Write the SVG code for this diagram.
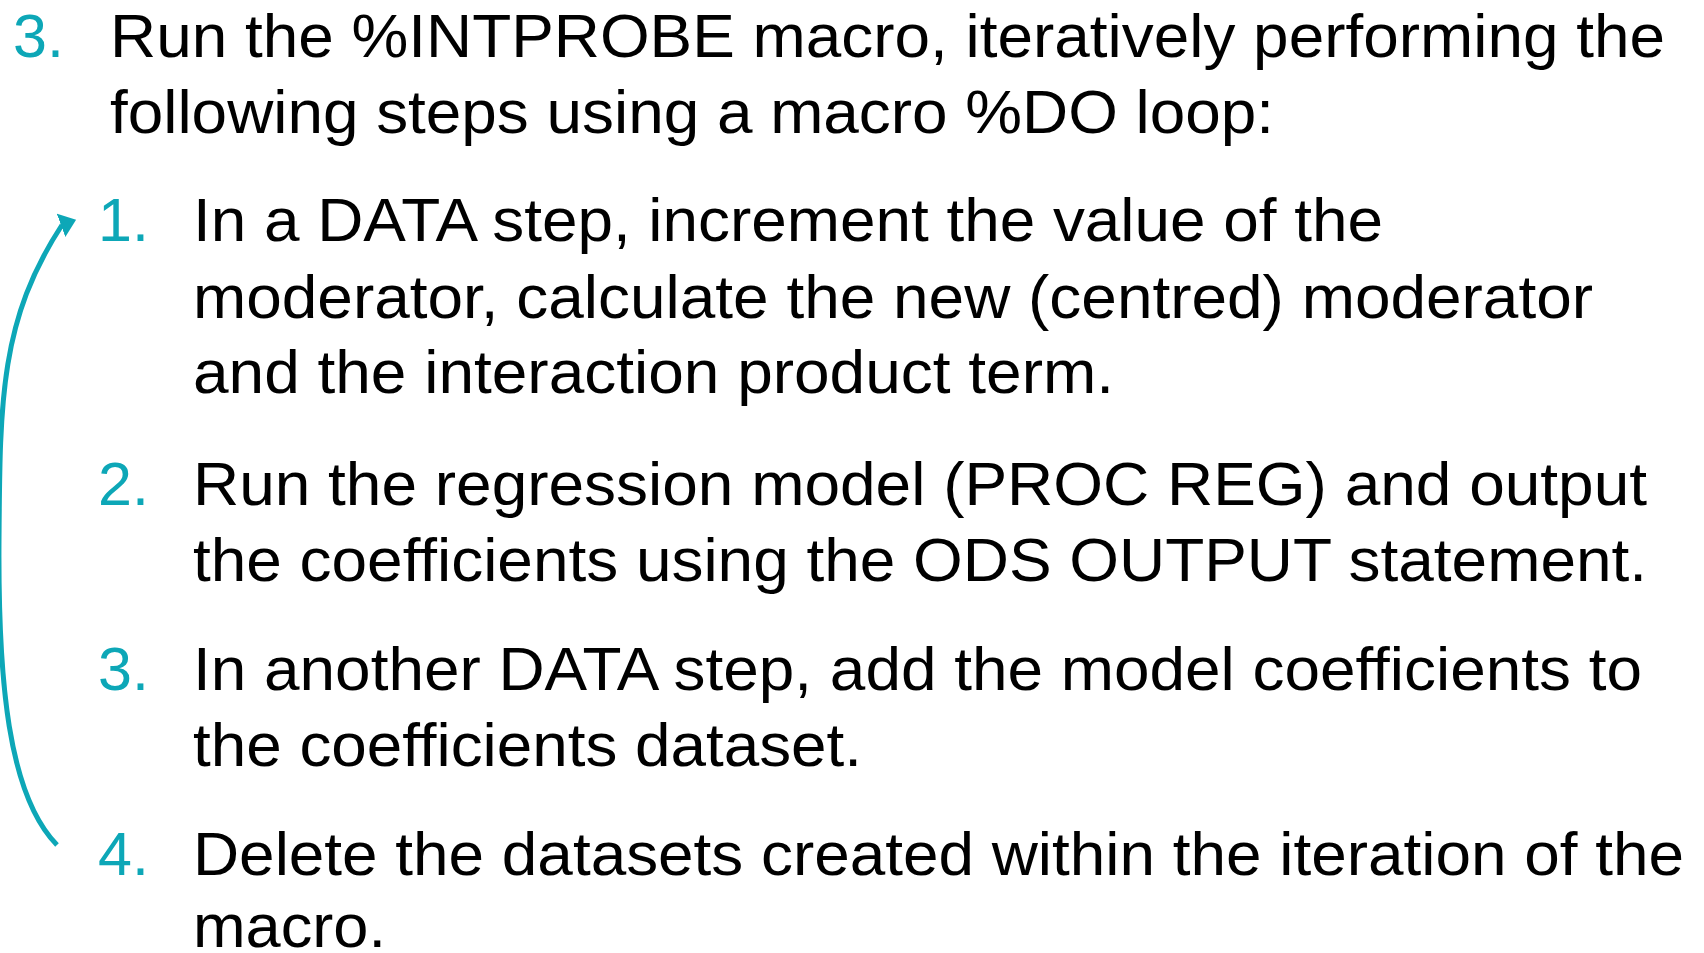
<svg xmlns="http://www.w3.org/2000/svg" width="1704" height="953" viewBox="0 0 1704 953">
<style>
.t{font-family:"Liberation Sans",Arial,sans-serif;font-size:61px;fill:#000}
.n{font-family:"Liberation Sans",Arial,sans-serif;font-size:61px;fill:#0DA7B7}
</style>
<defs>
<marker id="ah" markerUnits="userSpaceOnUse" markerWidth="20" markerHeight="28" refX="1" refY="12.5" orient="-20" viewBox="0 0 20 28">
<path d="M0,0 L16,12.5 L0,25 Z" fill="#0DA7B7"/>
</marker>
</defs>
<rect width="1704" height="953" fill="#fff"/>
<g id="connectors">
<path d="M57,845 C8,795 -2,680 -1,540 C0,400 0,320 62,225" fill="none" stroke="#0DA7B7" stroke-width="5" marker-end="url(#ah)"/>
</g>
<g id="main">
<text class="n" x="13" y="57">3.</text>
<text class="t" x="110" y="57" textLength="1555" lengthAdjust="spacingAndGlyphs">Run the %INTPROBE macro, iteratively performing the</text>
<text class="t" x="110" y="133" textLength="1164" lengthAdjust="spacingAndGlyphs">following steps using a macro %DO loop:</text>
</g>
<g id="step1">
<text class="n" x="98" y="241">1.</text>
<text class="t" x="193" y="241" textLength="1190" lengthAdjust="spacingAndGlyphs">In a DATA step, increment the value of the</text>
<text class="t" x="193" y="318" textLength="1400" lengthAdjust="spacingAndGlyphs">moderator, calculate the new (centred) moderator</text>
<text class="t" x="193" y="393" textLength="921" lengthAdjust="spacingAndGlyphs">and the interaction product term.</text>
</g>
<g id="step2">
<text class="n" x="98" y="505">2.</text>
<text class="t" x="193" y="505" textLength="1454" lengthAdjust="spacingAndGlyphs">Run the regression model (PROC REG) and output</text>
<text class="t" x="193" y="581" textLength="1454" lengthAdjust="spacingAndGlyphs">the coefficients using the ODS OUTPUT statement.</text>
</g>
<g id="step3">
<text class="n" x="98" y="690">3.</text>
<text class="t" x="193" y="690" textLength="1449" lengthAdjust="spacingAndGlyphs">In another DATA step, add the model coefficients to</text>
<text class="t" x="193" y="766" textLength="669" lengthAdjust="spacingAndGlyphs">the coefficients dataset.</text>
</g>
<g id="step4">
<text class="n" x="98" y="875">4.</text>
<text class="t" x="193" y="875" textLength="1491" lengthAdjust="spacingAndGlyphs">Delete the datasets created within the iteration of the</text>
<text class="t" x="193" y="947" textLength="193" lengthAdjust="spacingAndGlyphs">macro.</text>
</g>
</svg>
